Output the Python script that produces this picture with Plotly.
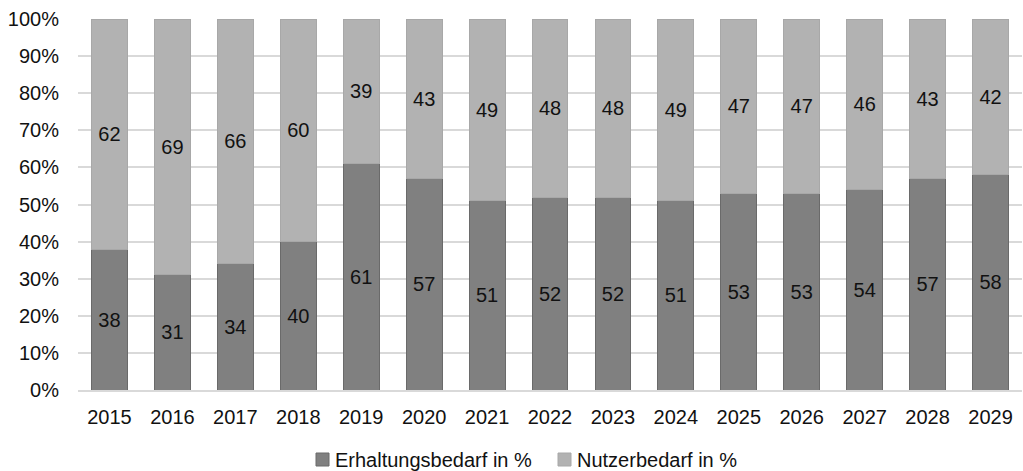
import plotly.graph_objects as go

years = ["2015", "2016", "2017", "2018", "2019", "2020", "2021", "2022",
         "2023", "2024", "2025", "2026", "2027", "2028", "2029"]
erhaltung = [38, 31, 34, 40, 61, 57, 51, 52, 52, 51, 53, 53, 54, 57, 58]
nutzer = [62, 69, 66, 60, 39, 43, 49, 48, 48, 49, 47, 47, 46, 43, 42]

series = [
    ("Erhaltungsbedarf in %", erhaltung, "#808080", "#6a6a6a"),
    ("Nutzerbedarf in %", nutzer, "#b2b2b2", "#a8a8a8"),
]

font_family = "Liberation Sans, Arial, sans-serif"
FS = 20
W, H = 1023, 471
ML, MR, MT, MB = 78, 1, 19, 81
PW, PH = W - ML - MR, H - MT - MB


def px_to_paper(px, py):
    return (px - ML) / PW, (H - MB - py) / PH


fig = go.Figure()
for name, vals, fill, edge in series:
    fig.add_trace(go.Bar(
        x=years, y=vals, name=name, showlegend=False,
        marker=dict(color=fill, line=dict(color=edge, width=1)),
        text=[str(v) for v in vals], textposition="inside",
        insidetextanchor="middle", textangle=0,
        textfont=dict(color="#111111", size=FS, family=font_family),
    ))

# Compact legend below the plot: small square swatch followed by the label
legend_items = [(316, 333), (558, 575)]
shapes, annotations = [], []
for (sq_x, txt_x), (name, _, fill, edge) in zip(legend_items, series):
    x0, y0 = px_to_paper(sq_x, 466)
    x1, y1 = px_to_paper(sq_x + 13, 453)
    shapes.append(dict(type="rect", xref="paper", yref="paper",
                       x0=x0, y0=y0, x1=x1, y1=y1,
                       fillcolor=fill, line=dict(color=edge, width=1)))
    tx, ty = px_to_paper(txt_x, 460)
    annotations.append(dict(xref="paper", yref="paper", x=tx, y=ty,
                            xanchor="left", yanchor="middle", showarrow=False,
                            text=name, font=dict(size=FS, color="#111111")))

fig.update_layout(
    barmode="stack",
    barnorm="percent",
    bargap=0.43,
    width=W, height=H,
    margin=dict(l=ML, r=MR, t=MT, b=MB, autoexpand=False),
    paper_bgcolor="white", plot_bgcolor="white",
    font=dict(family=font_family, size=FS, color="#111111"),
    uniformtext=dict(minsize=FS, mode="show"),
    showlegend=False,
    shapes=shapes,
    annotations=annotations,
)
fig.update_yaxes(
    range=[0, 100], dtick=10, ticksuffix="%",
    showgrid=True, gridcolor="#d9d9d9", gridwidth=2,
    zeroline=False, showline=False, ticklabelstandoff=18,
    tickfont=dict(size=FS),
)
fig.update_xaxes(
    showline=True, linecolor="#d9d9d9", linewidth=2,
    ticklabelstandoff=8, tickfont=dict(size=FS),
)

fig.write_html("out.html")
